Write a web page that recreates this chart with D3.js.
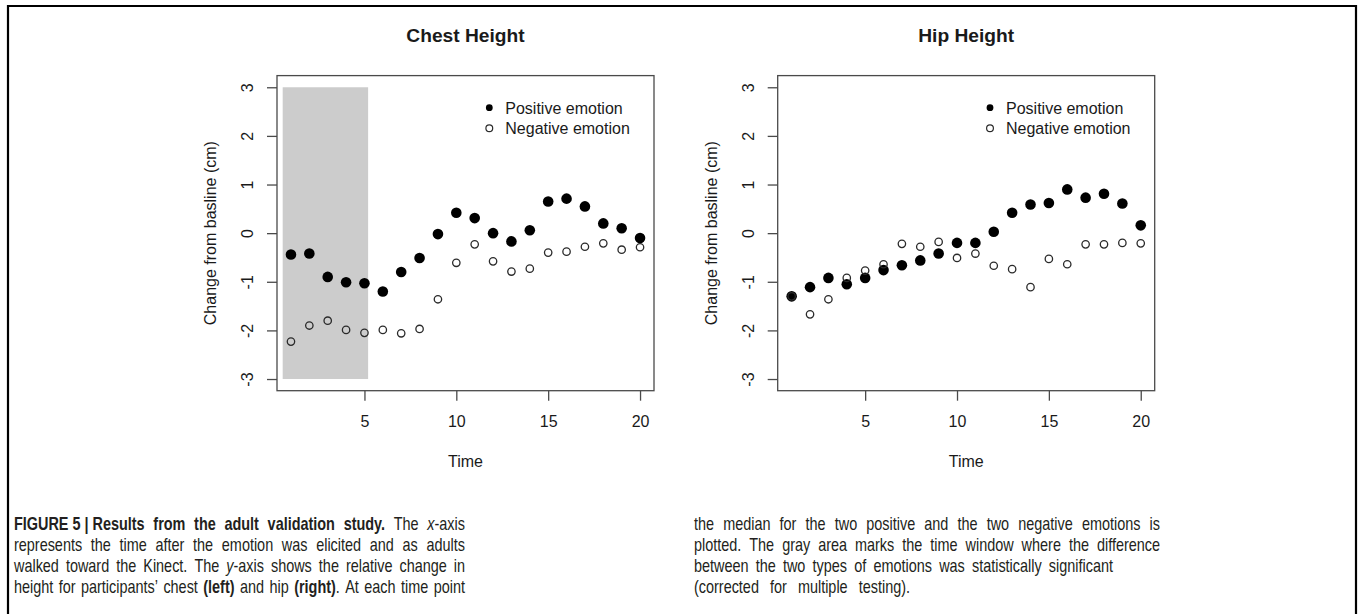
<!doctype html>
<html>
<head>
<meta charset="utf-8">
<script src="https://cdn.jsdelivr.net/npm/d3@7"></script>
<style>
  body { margin: 0; background: #fff; }
  svg { display: block; font-family: "Liberation Sans", Arial, Helvetica, sans-serif; }
</style>
</head>
<body>
<svg id="fig" width="1359" height="614"></svg>
<script>
// ---- data ----
var time = [1, 2, 3, 4, 5, 6, 7, 8, 9, 10, 11, 12, 13, 14, 15, 16, 17, 18, 19, 20];

var chestPositive = [-0.44, -0.42, -0.90, -1.01, -1.03, -1.20, -0.80, -0.51, -0.02, 0.42,
                     0.31, 0.00, -0.17, 0.06, 0.65, 0.71, 0.55, 0.20, 0.10, -0.10];
var chestNegative = [-2.23, -1.90, -1.80, -1.99, -2.05, -1.99, -2.06, -1.97, -1.36, -0.61,
                     -0.23, -0.58, -0.79, -0.73, -0.40, -0.38, -0.28, -0.21, -0.34, -0.29];
var hipPositive   = [-1.30, -1.11, -0.92, -1.05, -0.92, -0.76, -0.66, -0.56, -0.42, -0.20,
                     -0.20, 0.03, 0.42, 0.59, 0.62, 0.90, 0.73, 0.81, 0.61, 0.16];
var hipNegative   = [-1.30, -1.67, -1.36, -0.92, -0.77, -0.64, -0.22, -0.28, -0.18, -0.51,
                     -0.42, -0.67, -0.74, -1.11, -0.53, -0.64, -0.23, -0.23, -0.20, -0.21];

var panelTitles = ["Chest Height", "Hip Height"];
var xTicks = [5, 10, 15, 20];
var yTicks = [-3, -2, -1, 0, 1, 2, 3];
var yLimits = [-3, 3];
var legendLabels = ["Positive emotion", "Negative emotion"];
var xLabel = "Time";
var yLabel = "Change from basline (cm)";
// significant window (chest only)
var chestWindow = [0.55, 5.2];

// caption: * toggles bold, _ toggles italic, ~ is a space inside one word
var captionLeft = [
  "*FIGURE~5~|~Results* *from* *the* *adult* *validation* *study.* The _x_-axis",
  "represents the time after the emotion was elicited and as adults",
  "walked toward the Kinect. The _y_-axis shows the relative change in",
  "height for participants\u2019 chest *(left)* and hip *(right)*. At each time point"
];
var captionRight = [
  "the median for the two positive and the two negative emotions is",
  "plotted. The gray area marks the time window where the difference",
  "between the two types of emotions was statistically significant",
  "(corrected for multiple testing)."
];

// ---- layout ----
var svg = d3.select("#fig");
var axisCol = "#4a4a4a", textCol = "#1a1a1a";
var boxLefts = [277, 777.7], boxW = 377, boxTop = 75.6, boxH = 315.1;

var panels = [
  { title: panelTitles[0], pos: chestPositive, neg: chestNegative, shade: chestWindow },
  { title: panelTitles[1], pos: hipPositive, neg: hipNegative, shade: null }
];

// outer frame of the figure
svg.append("path")
  .attr("d", "M8,620V6H1356V620")
  .attr("fill", "none")
  .attr("stroke", "#000")
  .attr("stroke-width", 2.2);

// R style 4% padding on the axis ranges
var xr = d3.extent(time), xpad = (xr[1] - xr[0]) * 0.04;
var ypad = (yLimits[1] - yLimits[0]) * 0.04;

panels.forEach(function(p, i) {
  var g = svg.append("g").attr("transform", "translate(" + boxLefts[i] + "," + boxTop + ")");

  var x = d3.scaleLinear().domain([xr[0] - xpad, xr[1] + xpad]).range([0, boxW]);
  var y = d3.scaleLinear().domain([yLimits[0] - ypad, yLimits[1] + ypad]).range([boxH, 0]);

  if (p.shade) {
    g.append("rect")
      .attr("x", x(p.shade[0]))
      .attr("width", x(p.shade[1]) - x(p.shade[0]))
      .attr("y", y(yLimits[1]))
      .attr("height", y(yLimits[0]) - y(yLimits[1]))
      .attr("fill", "#cccccc");
  }

  // x axis
  var xa = g.append("g")
    .attr("transform", "translate(0," + boxH + ")")
    .call(d3.axisBottom(x).tickValues(xTicks).tickSize(10).tickPadding(14.5).tickFormat(String));
  xa.attr("font-family", null).attr("font-size", 16);
  xa.select(".domain").remove();
  xa.selectAll("line").attr("stroke", axisCol).attr("stroke-width", 1.3);
  xa.selectAll("text").attr("fill", textCol);

  // y axis, labels parallel to the axis like R
  var ya = g.append("g")
    .call(d3.axisLeft(y).tickValues(yTicks).tickSize(10).tickFormat(String));
  ya.attr("font-family", null).attr("font-size", 16);
  ya.select(".domain").remove();
  ya.selectAll("line").attr("stroke", axisCol).attr("stroke-width", 1.3);
  ya.selectAll("text")
    .attr("x", null).attr("dy", null)
    .attr("text-anchor", "middle")
    .attr("transform", "translate(-24,0) rotate(-90)")
    .attr("fill", textCol);

  // box
  g.append("rect")
    .attr("width", boxW).attr("height", boxH)
    .attr("fill", "none")
    .attr("stroke", axisCol)
    .attr("stroke-width", 1.3);

  // points
  g.selectAll(".pos").data(p.pos).enter().append("circle")
    .attr("cx", function(d, k) { return x(time[k]); })
    .attr("cy", function(d) { return y(d); })
    .attr("r", 5.3)
    .attr("fill", "#000");
  g.selectAll(".neg").data(p.neg).enter().append("circle")
    .attr("cx", function(d, k) { return x(time[k]); })
    .attr("cy", function(d) { return y(d); })
    .attr("r", 3.7)
    .attr("fill", "none")
    .attr("stroke", "#2a2a2a")
    .attr("stroke-width", 1.3);

  // legend
  var lg = g.append("g").attr("transform", "translate(212.3,32.1)");
  legendLabels.forEach(function(lab, k) {
    var c = lg.append("circle").attr("cx", 0).attr("cy", k * 20.6).attr("r", 3.4);
    if (k === 0) c.attr("fill", "#000");
    else c.attr("fill", "none").attr("stroke", "#2a2a2a").attr("stroke-width", 1.2);
    lg.append("text")
      .attr("x", 16).attr("y", k * 20.6 + 5.8)
      .attr("font-size", 16)
      .attr("fill", textCol)
      .text(lab);
  });

  // titles and labels
  g.append("text")
    .attr("x", boxW / 2).attr("y", 42 - boxTop)
    .attr("text-anchor", "middle")
    .attr("font-size", 19.2).attr("font-weight", "bold")
    .attr("fill", textCol)
    .text(p.title);
  g.append("text")
    .attr("x", boxW / 2).attr("y", 467.5 - boxTop)
    .attr("text-anchor", "middle")
    .attr("font-size", 16)
    .attr("fill", textCol)
    .text(xLabel);
  g.append("text")
    .attr("transform", "translate(-61," + y(0) + ") rotate(-90)")
    .attr("text-anchor", "middle")
    .attr("font-size", 16)
    .attr("fill", textCol)
    .text(yLabel);
});

// ---- caption, justified word by word ----
var capSize = 18.5, capScale = 0.78, capBase = 530, capStep = 21;

function parseWord(w) {
  var segs = [], b = false, it = false, cur = "";
  for (var c of w) {
    if (c === "*" || c === "_") {
      if (cur) segs.push({ t: cur, b: b, i: it });
      cur = "";
      if (c === "*") b = !b; else it = !it;
    } else cur += (c === "~" ? " " : c);
  }
  if (cur) segs.push({ t: cur, b: b, i: it });
  return segs;
}

function drawColumn(lines, left, rights) {
  var cg = svg.append("g")
    .attr("transform", "translate(" + left + ",0) scale(" + capScale + ",1)")
    .attr("font-size", capSize)
    .attr("fill", "#231f20");
  lines.forEach(function(line, li) {
    var t = cg.append("text").attr("y", capBase + li * capStep);
    var words = line.split(" ").map(function(w) {
      var spans = parseWord(w).map(function(s) {
        return t.append("tspan")
          .attr("font-weight", s.b ? "bold" : null)
          .attr("font-style", s.i ? "italic" : null)
          .text(s.t);
      });
      var len = d3.sum(spans, function(s) { return s.node().getComputedTextLength(); });
      return { spans: spans, len: len };
    });
    var target = (rights[li] - left) / capScale;
    var total = d3.sum(words, function(w) { return w.len; });
    var gap = (target - total) / (words.length - 1);
    var pos = 0;
    words.forEach(function(w) {
      w.spans[0].attr("x", pos);
      pos += w.len + gap;
    });
  });
}

drawColumn(captionLeft, 14, [465, 465, 465, 465]);
drawColumn(captionRight, 694, [1160, 1160, 1113, 910]);
</script>
</body>
</html>
